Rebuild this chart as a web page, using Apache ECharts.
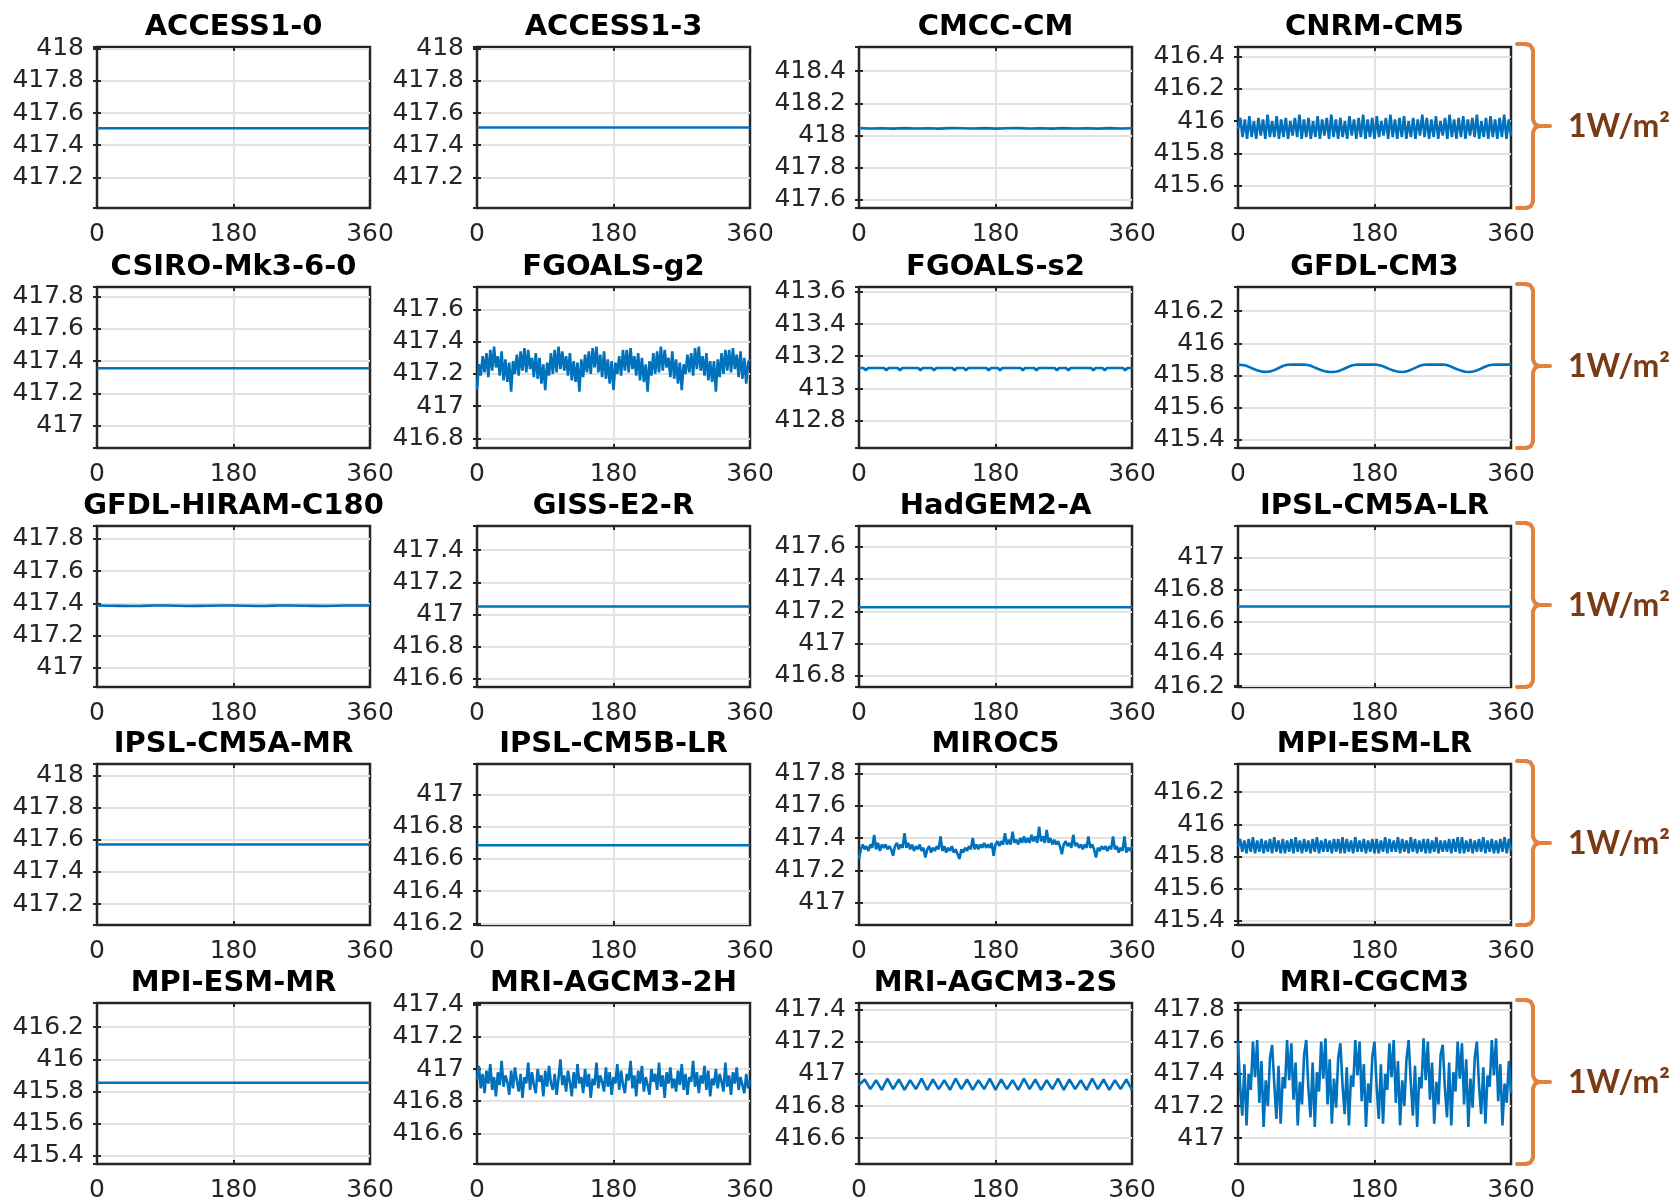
<!DOCTYPE html>
<html>
<head>
<meta charset="utf-8">
<script src="https://cdn.jsdelivr.net/npm/echarts@6/dist/echarts.min.js"></script>
<style>
html,body{margin:0;padding:0;background:#ffffff;}
#chart{width:1680px;height:1200px;}
</style>
</head>
<body>
<div id="chart"></div>
<script>
// ---------------- DATA ----------------
const models = [
  'ACCESS1-0','ACCESS1-3','CMCC-CM','CNRM-CM5',
  'CSIRO-Mk3-6-0','FGOALS-g2','FGOALS-s2','GFDL-CM3',
  'GFDL-HIRAM-C180','GISS-E2-R','HadGEM2-A','IPSL-CM5A-LR',
  'IPSL-CM5A-MR','IPSL-CM5B-LR','MIROC5','MPI-ESM-LR',
  'MPI-ESM-MR','MRI-AGCM3-2H','MRI-AGCM3-2S','MRI-CGCM3'
];
// y-axis limits (each panel spans 1 W/m2)
const yMin = [417.01, 417.01, 417.55, 415.46, 416.86, 416.74, 412.63, 415.35, 416.88, 416.55, 416.73, 416.195, 417.07, 416.19, 416.86, 415.375, 415.35, 416.41, 416.44, 416.84];
const yMax = [418.01, 418.01, 418.55, 416.46, 417.86, 417.74, 413.63, 416.35, 417.88, 417.55, 417.73, 417.195, 418.07, 417.19, 417.86, 416.375, 416.35, 417.41, 417.44, 417.84];
// x-axis (longitude) tick labels
const xTicks = [0, 180, 360];
const xMax = 360;
const yStep = 0.2;

// series values, evenly spaced in longitude from 0 to 360
const vACCESS10 = [417.505, 417.505, 417.505, 417.505, 417.505];
const vACCESS13 = [417.51, 417.51, 417.51, 417.51, 417.51];
const vCMCC = [418.046, 418.044, 418.045, 418.043, 418.046, 418.044, 418.045, 418.043, 418.046, 418.045, 418.044, 418.046, 418.043, 418.045, 418.046, 418.044, 418.045, 418.043, 418.046, 418.044, 418.045, 418.043, 418.046, 418.044, 418.045];
const vCNRM = [415.95,
  416.02, 415.90, 416.01, 415.89, 416.03, 415.90, 416.00, 415.89,
  416.02, 415.91, 416.01, 415.89, 416.04, 415.90, 416.00, 415.90,
  416.03, 415.89, 416.01, 415.90, 416.02, 415.89, 416.00, 415.91,
  416.02, 415.90, 416.04, 415.89, 416.01, 415.90, 416.02, 415.89,
  416.00, 415.90, 416.03, 415.89, 416.01, 415.91, 416.02, 415.89,
  416.04, 415.90, 416.01, 415.89, 416.02, 415.90, 416.00, 415.89,
  416.03, 415.91, 416.01, 415.89, 416.02, 415.90, 416.04, 415.89,
  416.01, 415.90, 416.02, 415.89, 416.03, 415.90, 416.00, 415.91,
  416.02, 415.89, 416.04, 415.90, 416.01, 415.89, 416.02, 415.90,
  416.03, 415.89, 416.00, 415.90, 416.02, 415.89, 416.01, 415.91,
  416.04, 415.90, 416.02, 415.89, 416.01, 415.90, 416.03, 415.89,
  416.00, 415.91, 416.02, 415.89, 416.04, 415.90, 416.01, 415.89,
  416.02, 415.90, 416.03, 415.89, 416.01, 415.91, 416.02, 415.90,
  416.04, 415.89, 416.00, 415.90, 416.02, 415.89, 416.03, 415.90,
  416.01, 415.89, 416.02, 415.90, 416.04, 415.89, 416.01, 415.91];
const vCSIRO = [417.355, 417.355, 417.355, 417.355, 417.355];
const vFGOALSg2 = [
  417.10, 417.26, 417.19, 417.31, 417.21, 417.33, 417.18, 417.35, 417.22, 417.37, 417.24, 417.31, 417.19, 417.34, 417.16, 417.29, 417.15, 417.27,
  417.09, 417.28, 417.20, 417.32, 417.19, 417.34, 417.22, 417.36, 417.21, 417.35, 417.23, 417.30, 417.18, 417.33, 417.17, 417.30, 417.14, 417.26,
  417.10, 417.27, 417.19, 417.33, 417.20, 417.35, 417.21, 417.37, 417.23, 417.34, 417.22, 417.31, 417.19, 417.33, 417.16, 417.28, 417.15, 417.27,
  417.09, 417.29, 417.18, 417.32, 417.21, 417.34, 417.20, 417.36, 417.24, 417.37, 417.21, 417.32, 417.18, 417.34, 417.17, 417.29, 417.14, 417.28,
  417.10, 417.27, 417.20, 417.31, 417.19, 417.35, 417.22, 417.35, 417.21, 417.36, 417.23, 417.31, 417.19, 417.33, 417.16, 417.30, 417.15, 417.26,
  417.09, 417.28, 417.19, 417.33, 417.20, 417.34, 417.21, 417.37, 417.22, 417.35, 417.24, 417.30, 417.18, 417.34, 417.17, 417.29, 417.14, 417.27,
  417.10, 417.26, 417.20, 417.32, 417.21, 417.33, 417.19, 417.36, 417.23, 417.37, 417.22, 417.31, 417.19, 417.33, 417.16, 417.28, 417.15, 417.28,
  417.09, 417.29, 417.18, 417.33, 417.20, 417.35, 417.22, 417.35, 417.21, 417.36, 417.23, 417.32, 417.18, 417.34, 417.17, 417.30, 417.14, 417.27,
  417.29];
const vFGOALSs2 = [
  413.128, 413.127, 413.127, 413.113, 413.127, 413.127, 413.127, 413.127, 413.127, 413.127,
  413.127, 413.127, 413.113, 413.127, 413.127, 413.127, 413.127, 413.127, 413.113, 413.127,
  413.127, 413.127, 413.127, 413.127, 413.127, 413.127, 413.127, 413.113, 413.127, 413.127,
  413.127, 413.127, 413.127, 413.113, 413.127, 413.127, 413.127, 413.127, 413.127, 413.127,
  413.127, 413.127, 413.113, 413.127, 413.127, 413.127, 413.127, 413.113, 413.127, 413.127,
  413.127, 413.127, 413.127, 413.127, 413.127, 413.127, 413.127, 413.113, 413.127, 413.127,
  413.127, 413.127, 413.113, 413.127, 413.127, 413.127, 413.127, 413.127, 413.127, 413.127,
  413.127, 413.127, 413.113, 413.127, 413.127, 413.127, 413.127, 413.127, 413.113, 413.127,
  413.127, 413.127, 413.127, 413.127, 413.127, 413.127, 413.127, 413.113, 413.127, 413.127,
  413.127, 413.127, 413.113, 413.127, 413.127, 413.127, 413.127, 413.127, 413.127, 413.127,
  413.127, 413.127, 413.127, 413.113, 413.127, 413.127, 413.127, 413.127, 413.113, 413.127,
  413.127, 413.127, 413.127, 413.127, 413.127, 413.127, 413.127, 413.113, 413.127, 413.127,
  413.127];
const vGFDLCM3 = [
  415.868, 415.866, 415.862, 415.852, 415.842, 415.833, 415.826, 415.823, 415.824, 415.829,
  415.838, 415.850, 415.861, 415.867, 415.868, 415.869, 415.868, 415.869, 415.867, 415.862,
  415.852, 415.842, 415.833, 415.826, 415.823, 415.822, 415.825, 415.832, 415.842, 415.853,
  415.862, 415.867, 415.868, 415.869, 415.868, 415.868, 415.869, 415.866, 415.860, 415.850,
  415.840, 415.831, 415.825, 415.822, 415.824, 415.830, 415.840, 415.851, 415.861, 415.867,
  415.868, 415.869, 415.868, 415.868, 415.869, 415.866, 415.858, 415.847, 415.837, 415.829,
  415.824, 415.822, 415.825, 415.832, 415.842, 415.853, 415.862, 415.867, 415.868, 415.869,
  415.868, 415.868, 415.868];
const vGFDLHIRAM = [417.386, 417.385, 417.384, 417.383, 417.384, 417.386, 417.386, 417.385, 417.383, 417.384, 417.385, 417.386, 417.386, 417.385, 417.383, 417.384, 417.386, 417.386, 417.385, 417.384, 417.383, 417.385, 417.386, 417.386, 417.386];
const vGISS = [417.05, 417.05, 417.05, 417.05, 417.05];
const vHadGEM2A = [417.225, 417.225, 417.225, 417.225, 417.225];
const vIPSL5ALR = [416.695, 416.695, 416.695, 416.695, 416.695];
const vIPSL5AMR = [417.57, 417.57, 417.57, 417.57, 417.57];
const vIPSL5BLR = [416.685, 416.685, 416.685, 416.685, 416.685];
const vMIROC5 = [
  417.27, 417.33, 417.36, 417.33, 417.35, 417.32, 417.36, 417.34, 417.42, 417.33,
  417.37, 417.32, 417.36, 417.34, 417.36, 417.33, 417.35, 417.33, 417.29, 417.35,
  417.37, 417.33, 417.36, 417.34, 417.43, 417.34, 417.37, 417.33, 417.36, 417.32,
  417.35, 417.33, 417.36, 417.32, 417.34, 417.28, 417.33, 417.35, 417.31, 417.34,
  417.32, 417.35, 417.33, 417.41, 417.32, 417.35, 417.31, 417.34, 417.32, 417.35,
  417.31, 417.33, 417.30, 417.27, 417.33, 417.31, 417.34, 417.32, 417.35, 417.33,
  417.40, 417.33, 417.36, 417.33, 417.36, 417.34, 417.37, 417.34, 417.36, 417.34,
  417.37, 417.29, 417.36, 417.38, 417.35, 417.38, 417.36, 417.43, 417.36, 417.39,
  417.36, 417.44, 417.37, 417.39, 417.36, 417.40, 417.37, 417.41, 417.37, 417.40,
  417.37, 417.42, 417.38, 417.41, 417.37, 417.47, 417.38, 417.41, 417.37, 417.45,
  417.37, 417.40, 417.36, 417.39, 417.36, 417.38, 417.35, 417.30, 417.36, 417.38,
  417.35, 417.37, 417.34, 417.42, 417.35, 417.37, 417.34, 417.36, 417.33, 417.36,
  417.34, 417.41, 417.34, 417.36, 417.33, 417.28, 417.34, 417.32, 417.35, 417.33,
  417.35, 417.32, 417.35, 417.33, 417.41, 417.33, 417.35, 417.31, 417.34, 417.32,
  417.41, 417.31, 417.34, 417.32, 417.35];
const vMPILR = [415.86,
  415.91, 415.83, 415.90, 415.82, 415.91, 415.83, 415.92, 415.82,
  415.90, 415.83, 415.91, 415.82, 415.90, 415.83, 415.91, 415.82,
  415.92, 415.83, 415.90, 415.82, 415.91, 415.82, 415.90, 415.83,
  415.91, 415.82, 415.92, 415.83, 415.90, 415.82, 415.91, 415.83,
  415.90, 415.82, 415.91, 415.83, 415.92, 415.82, 415.90, 415.83,
  415.91, 415.83, 415.90, 415.82, 415.91, 415.83, 415.91, 415.82,
  415.92, 415.82, 415.91, 415.83, 415.90, 415.82, 415.92, 415.83,
  415.90, 415.83, 415.91, 415.82, 415.90, 415.83, 415.91, 415.82,
  415.91, 415.82, 415.90, 415.83, 415.92, 415.82, 415.91, 415.83,
  415.90, 415.83, 415.92, 415.82, 415.91, 415.83, 415.90, 415.82,
  415.92, 415.83, 415.91, 415.82, 415.90, 415.83, 415.91, 415.82,
  415.91, 415.82, 415.90, 415.83, 415.92, 415.82, 415.90, 415.83,
  415.90, 415.83, 415.91, 415.82, 415.91, 415.83, 415.92, 415.82,
  415.92, 415.82, 415.90, 415.83, 415.91, 415.82, 415.90, 415.83,
  415.91, 415.83, 415.92, 415.82, 415.90, 415.83, 415.91, 415.82,
  415.90, 415.82, 415.91, 415.83, 415.92, 415.82, 415.91, 415.84];
const vMPIMR = [415.855, 415.855, 415.855, 415.855, 415.855];
const vMRI2H = [
  416.93, 417.02, 416.88, 416.97, 416.85, 416.99, 416.91, 417.03, 416.87, 416.95,
  416.83, 416.98, 416.90, 417.05, 416.89, 416.96, 416.92, 416.84, 416.99, 416.88,
  417.01, 416.93, 416.86, 416.97, 416.82, 416.95, 416.91, 417.04, 416.87, 416.98,
  416.90, 416.85, 417.00, 416.92, 416.96, 416.83, 416.99, 416.89, 417.02, 416.91,
  416.87, 416.97, 416.84, 416.94, 417.06, 416.90, 416.96, 416.86, 416.99, 416.92,
  416.83, 416.98, 416.88, 417.03, 416.91, 416.95, 416.85, 417.00, 416.89, 416.97,
  416.82, 416.94, 416.90, 417.04, 416.88, 416.96, 416.92, 416.86, 417.01, 416.89,
  416.98, 416.84, 416.95, 416.91, 417.03, 416.87, 416.99, 416.90, 416.85, 416.97,
  416.93, 417.05, 416.88, 416.96, 416.83, 416.99, 416.91, 417.02, 416.86, 416.95,
  416.90, 416.84, 417.00, 416.92, 416.97, 416.87, 417.04, 416.89, 416.96, 416.82,
  416.98, 416.91, 417.01, 416.88, 416.94, 416.86, 416.99, 416.90, 417.03, 416.87,
  416.97, 416.84, 416.95, 416.92, 417.05, 416.89, 416.98, 416.85, 416.96, 416.91,
  417.02, 416.87, 416.99, 416.83, 416.94, 416.90, 417.00, 416.88, 416.97, 416.92,
  416.86, 417.04, 416.89, 416.96, 416.84, 416.98, 416.91, 417.01, 416.87, 416.95,
  416.90, 416.85, 416.97, 416.88, 416.93];
const vMRI2S = [416.93,
  416.965, 416.905, 416.96, 416.90, 416.97, 416.905, 416.965, 416.90,
  416.96, 416.905, 416.97, 416.90, 416.965, 416.905, 416.96, 416.90,
  416.97, 416.905, 416.965, 416.90, 416.96, 416.905, 416.97, 416.90,
  416.965, 416.905, 416.96, 416.90, 416.97, 416.905, 416.965, 416.90,
  416.96, 416.905, 416.97, 416.90, 416.965, 416.905, 416.96, 416.90,
  416.97, 416.905, 416.965, 416.90, 416.96, 416.905, 416.965, 416.90];
const vMRICGCM3 = [
  417.60, 417.32, 417.14, 417.46, 417.08, 417.40, 417.30, 417.60, 417.38, 417.61, 417.22, 417.48, 417.07, 417.36, 417.20, 417.50,
  417.58, 417.34, 417.12, 417.45, 417.09, 417.38, 417.31, 417.61, 417.36, 417.59, 417.24, 417.47, 417.08, 417.35, 417.21, 417.52,
  417.61, 417.31, 417.13, 417.47, 417.07, 417.41, 417.29, 417.60, 417.37, 417.62, 417.21, 417.49, 417.09, 417.37, 417.19, 417.50,
  417.59, 417.33, 417.15, 417.44, 417.08, 417.39, 417.32, 417.61, 417.39, 417.60, 417.23, 417.46, 417.07, 417.34, 417.22, 417.51,
  417.60, 417.32, 417.12, 417.46, 417.09, 417.40, 417.30, 417.59, 417.38, 417.61, 417.22, 417.48, 417.08, 417.36, 417.20, 417.49,
  417.61, 417.35, 417.14, 417.45, 417.07, 417.38, 417.31, 417.62, 417.36, 417.60, 417.24, 417.47, 417.09, 417.35, 417.21, 417.52,
  417.58, 417.31, 417.13, 417.47, 417.08, 417.41, 417.29, 417.60, 417.37, 417.59, 417.21, 417.49, 417.07, 417.37, 417.19, 417.50,
  417.60, 417.33, 417.15, 417.44, 417.09, 417.39, 417.32, 417.61, 417.39, 417.62, 417.23, 417.46, 417.08, 417.34, 417.22, 417.48,
  417.28];

const seriesValues = [
  vACCESS10, vACCESS13, vCMCC, vCNRM,
  vCSIRO, vFGOALSg2, vFGOALSs2, vGFDLCM3,
  vGFDLHIRAM, vGISS, vHadGEM2A, vIPSL5ALR,
  vIPSL5AMR, vIPSL5BLR, vMIROC5, vMPILR,
  vMPIMR, vMRI2H, vMRI2S, vMRICGCM3
];
const annotationText = '1W/m²';

// ---------------- LAYOUT / STYLE ----------------
const colLeft = [97, 477, 859, 1238];
const rowTop = [47, 287, 526, 764, 1003];
const W = 273, H = 161;
const FONT = '"DejaVu Sans", "Liberation Sans", Arial, sans-serif';
const AX = '#262626';
const GRIDC = '#e2e2e2';
const LINEC = '#0072BD';

const grids = [], xAxes = [], yAxes = [], series = [], graphics = [];

function yLabel(v) {
  const k = v / yStep;
  if (Math.abs(k - Math.round(k)) > 1e-6) return '';
  return String(parseFloat(v.toFixed(1)));
}

models.forEach((name, i) => {
  const r = Math.floor(i / 4), c = i % 4;
  grids.push({
    left: colLeft[c], top: rowTop[r], width: W, height: H,
    show: true, borderColor: AX, borderWidth: 2.5, backgroundColor: '#ffffff',
    containLabel: false, outerBoundsMode: 'none'
  });
  xAxes.push({
    gridIndex: i, type: 'value', min: 0, max: xMax, interval: 180, position: 'bottom',
    axisLine: { show: false },
    axisTick: { show: true, inside: true, length: 4, lineStyle: { color: AX, width: 2 } },
    axisLabel: { show: true, margin: 14, color: AX, fontSize: 25, fontFamily: FONT,
      formatter: v => (xTicks.indexOf(Math.round(v)) >= 0 ? String(Math.round(v)) : '') },
    splitLine: { show: true, showMinLine: false, showMaxLine: false, lineStyle: { color: GRIDC, width: 2 } }
  });
  xAxes.push({
    gridIndex: i, type: 'value', min: 0, max: xMax, interval: 180, position: 'top',
    axisLine: { show: false },
    axisTick: { show: true, inside: true, length: 4, lineStyle: { color: AX, width: 2 } },
    axisLabel: { show: false }, splitLine: { show: false }
  });
  yAxes.push({
    gridIndex: i, type: 'value', min: yMin[i], max: yMax[i], splitNumber: 5, position: 'left',
    axisLine: { show: false },
    axisTick: { show: true, inside: true, length: 4, lineStyle: { color: AX, width: 2 } },
    axisLabel: { show: true, margin: 13, color: AX, fontSize: 25, fontFamily: FONT, formatter: yLabel },
    splitLine: { show: true, showMinLine: false, showMaxLine: false, lineStyle: { color: GRIDC, width: 2 } }
  });
  yAxes.push({
    gridIndex: i, type: 'value', min: yMin[i], max: yMax[i], splitNumber: 5, position: 'right',
    axisLine: { show: false },
    axisTick: { show: true, inside: true, length: 4, lineStyle: { color: AX, width: 2 } },
    axisLabel: { show: false }, splitLine: { show: false }
  });
  const vals = seriesValues[i];
  series.push({
    name: name, type: 'line', xAxisIndex: 2 * i, yAxisIndex: 2 * i,
    data: vals.map((v, k) => [k * xMax / (vals.length - 1), v]),
    symbol: 'none', showSymbol: false, smooth: false,
    lineStyle: { color: LINEC, width: 2.6 }, itemStyle: { color: LINEC },
    silent: true, animation: false
  });
  graphics.push({
    type: 'text', x: colLeft[c] + W / 2, y: rowTop[r] - 20,
    style: { text: name, fill: '#000000', font: 'bold 29px ' + FONT, textAlign: 'center', textVerticalAlign: 'middle' }
  });
});

// brackets + annotation on the right of each row
const BR = '#E3823F';
rowTop.forEach(t => {
  const T = t - 3, B = t + H, M = (T + B) / 2;
  graphics.push({
    type: 'polyline', silent: true,
    shape: { points: [[1517, T], [1526, T], [1530.5, T + 1.5], [1533, T + 6], [1533, M - 6], [1535, M - 2], [1539, M], [1550, M]] },
    style: { stroke: BR, lineWidth: 4, fill: null, lineJoin: 'round', lineCap: 'round' }
  });
  graphics.push({
    type: 'polyline', silent: true,
    shape: { points: [[1539, M], [1535, M + 2], [1533, M + 6], [1533, B - 6], [1530.5, B - 1.5], [1526, B], [1517, B]] },
    style: { stroke: BR, lineWidth: 4, fill: null, lineJoin: 'round', lineCap: 'round' }
  });
  graphics.push({
    type: 'text', x: 1568, y: M + 1,
    style: { text: annotationText, fill: '#7A3A14', font: 'bold 32px Lato, "Open Sans", sans-serif', textAlign: 'left', textVerticalAlign: 'middle' }
  });
});

const chart = echarts.init(document.getElementById('chart'), null, { renderer: 'canvas', width: 1680, height: 1200 });
chart.setOption({
  animation: false,
  backgroundColor: '#ffffff',
  grid: grids,
  xAxis: xAxes,
  yAxis: yAxes,
  series: series,
  graphic: graphics
});
</script>
</body>
</html>
